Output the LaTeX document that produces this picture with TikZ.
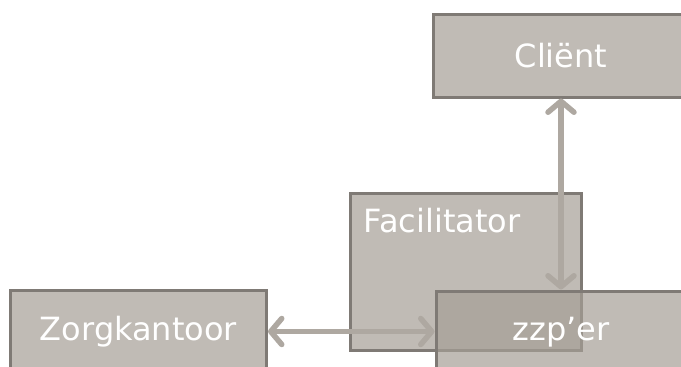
\documentclass[tikz,border=0pt]{standalone}
\usepackage{fontspec}
\newfontfamily\boxfont{DejaVu Sans}
\usetikzlibrary{arrows.meta}
\definecolor{boxfill}{RGB}{165,158,149}
\definecolor{boxline}{RGB}{127,122,117}
\definecolor{linkcol}{RGB}{174,168,161}
\begin{document}
\begin{tikzpicture}[
    x=1pt, y=-1pt,
    party/.style={draw=boxline, line width=3pt, fill=boxfill, fill opacity=0.7, text opacity=1,
        text=white, font=\boxfont\fontsize{32}{38}\selectfont, minimum width=256pt, minimum height=83pt, inner sep=0pt},
    link/.style={draw=linkcol, line width=5.5pt, {Straight Barb[length=11pt,width=26pt,round]}-{Straight Barb[length=11pt,width=26pt,round]}}
]
    \useasboundingbox (0,0) rectangle (681,367);
    % boxes
    \node [party, minimum width=231pt, minimum height=157pt] (fac) at (465.5,271.5) {};
    \node [anchor=north west, text=white, font=\boxfont\fontsize{32}{38}\selectfont, inner sep=0pt] (factxt) at (fac.north west) [xshift=15pt, yshift=-16pt] {Facilitator};
    \node [party] (cli) at (561,55.5) {Cliënt};
    \node [party] (zorg) at (138.5,331.5) {Zorgkantoor};
    \node [party, minimum width=250pt] (zzp) at (561,332.5) {zzp’er};
    % connectors
    \draw [link] (cli.south) -- (zzp.north);
    \draw [link] (zorg.east) -- (zorg.east -| zzp.west);
\end{tikzpicture}
\end{document}
